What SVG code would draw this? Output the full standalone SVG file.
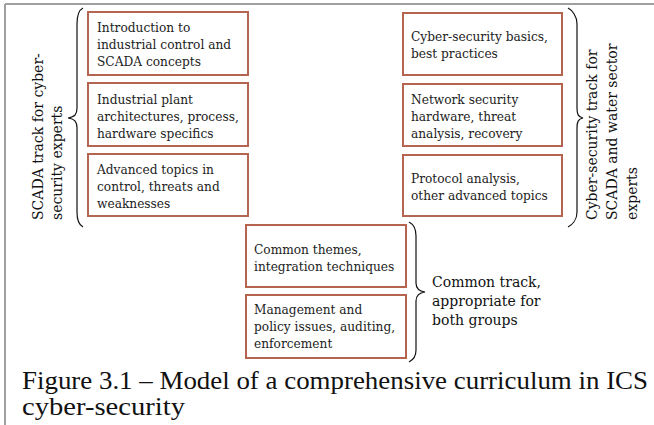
<svg xmlns="http://www.w3.org/2000/svg" width="654" height="425" viewBox="0 0 654 425">
<style>
.box{fill:#fff;stroke:#b5654f;stroke-width:2}
.t{font-family:"DejaVu Serif",Georgia,serif;font-size:12.2px;fill:#222}
.lbl{font-family:"DejaVu Serif",Georgia,serif;font-size:14px;fill:#111}
.brace{fill:none;stroke:#111;stroke-width:1.2}
.cap{font-family:"Liberation Serif","Times New Roman",serif;font-size:25px;fill:#111}
</style>
<rect x="0" y="0" width="654" height="425" fill="#fff"/>
<line x1="5" y1="4" x2="654" y2="4" stroke="#a0a0a0" stroke-width="2"/>
<line x1="5" y1="4" x2="5" y2="425" stroke="#a0a0a0" stroke-width="2"/>
<g id="connectors">
<path class="brace" d="M83,8 C79,10 77,16 77,24 L77,108 C77,114 75,117 68,118 C75,119 77,122 77,128 L77,212 C77,220 79,225 83,227"/>
<path class="brace" d="M568,8 C572,10 577,16 577,24 L577,108 C577,114 578,117 583,118 C578,119 577,122 577,128 L577,212 C577,220 572,225 568,227"/>
<path class="brace" d="M409,222 C413,224 416,229 416,236 L416,283 C416,288 418,291 425,292 C418,293 416,296 416,301 L416,350 C416,356 413,360 409,362"/>
</g>
<g id="l1"><rect class="box" x="88" y="12" width="160" height="63"/>
<text class="t" x="97" y="32">Introduction to</text><text class="t" x="97" y="49">industrial control and</text><text class="t" x="97" y="66">SCADA concepts</text></g>
<g id="l2"><rect class="box" x="88" y="83" width="160" height="63"/>
<text class="t" x="97" y="104">Industrial plant</text><text class="t" x="97" y="121">architectures, process,</text><text class="t" x="97" y="138">hardware specifics</text></g>
<g id="l3"><rect class="box" x="88" y="154" width="160" height="62"/>
<text class="t" x="97" y="174">Advanced topics in</text><text class="t" x="97" y="191">control, threats and</text><text class="t" x="97" y="208">weaknesses</text></g>
<g id="r1"><rect class="box" x="403" y="13" width="159" height="62"/>
<text class="t" x="411" y="41">Cyber-security basics,</text><text class="t" x="411" y="58">best practices</text></g>
<g id="r2"><rect class="box" x="403" y="84" width="159" height="62"/>
<text class="t" x="411" y="104">Network security</text><text class="t" x="411" y="121">hardware, threat</text><text class="t" x="411" y="138">analysis, recovery</text></g>
<g id="r3"><rect class="box" x="403" y="155" width="159" height="61"/>
<text class="t" x="411" y="183">Protocol analysis,</text><text class="t" x="411" y="200">other advanced topics</text></g>
<g id="c1"><rect class="box" x="246" y="225" width="160" height="62"/>
<text class="t" x="254" y="254">Common themes,</text><text class="t" x="254" y="271">integration techniques</text></g>
<g id="c2"><rect class="box" x="246" y="295" width="160" height="63"/>
<text class="t" x="254" y="314">Management and</text><text class="t" x="254" y="331">policy issues, auditing,</text><text class="t" x="254" y="348">enforcement</text></g>
<g id="lbl-left"><text class="lbl" transform="translate(43,220) rotate(-90)">SCADA track for cyber-</text><text class="lbl" transform="translate(62,220) rotate(-90)">security experts</text></g>
<g id="lbl-right"><text class="lbl" transform="translate(597,220) rotate(-90)">Cyber-security track for</text><text class="lbl" transform="translate(617,220) rotate(-90)">SCADA and water sector</text><text class="lbl" transform="translate(637,220) rotate(-90)">experts</text></g>
<g id="lbl-common"><text class="lbl" x="432" y="287">Common track,</text><text class="lbl" x="432" y="306">appropriate for</text><text class="lbl" x="432" y="325">both groups</text></g>
<text class="cap" x="22" y="389" textLength="626" lengthAdjust="spacingAndGlyphs">Figure 3.1 – Model of a comprehensive curriculum in ICS</text>
<text class="cap" x="22" y="415" textLength="163" lengthAdjust="spacingAndGlyphs">cyber-security</text>
</svg>
